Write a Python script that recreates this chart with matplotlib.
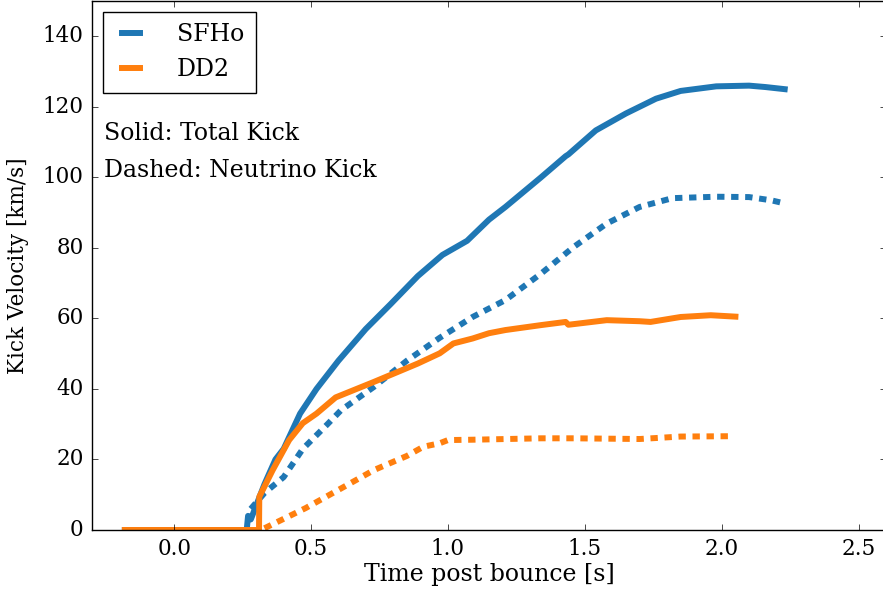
import matplotlib
matplotlib.use("Agg")
import matplotlib.pyplot as plt

plt.style.use('classic')
plt.rcParams['font.family'] = ['DejaVu Serif']

# SFHo total kick
sfho_tot_t = [-0.18, 0.265, 0.27, 0.28, 0.30, 0.33, 0.37, 0.40, 0.46, 0.52, 0.60, 0.70, 0.79, 0.89,
              0.98, 1.07, 1.15, 1.21, 1.34, 1.43, 1.44, 1.54, 1.65, 1.76, 1.85, 1.98, 2.10, 2.16, 2.23]
sfho_tot_v = [0, 0, 4, 3, 7, 13, 20, 23, 33, 40, 48, 57, 64, 72,
              78, 82, 88, 91.6, 100, 106, 106.5, 113.3, 118.1, 122.3, 124.5, 125.8, 126, 125.6, 125]
# SFHo neutrino kick
sfho_nu_t = [0.28, 0.33, 0.40, 0.47, 0.56, 0.61, 0.73, 0.85, 0.97, 1.09, 1.21, 1.34, 1.46, 1.58,
             1.70, 1.82, 1.90, 1.98, 2.10, 2.18, 2.23]
sfho_nu_v = [6, 10.5, 15, 23, 30, 34, 40.6, 48, 54.5, 60.4, 65.2, 72.7, 80.3, 86.9,
             91.6, 94.1, 94.3, 94.5, 94.4, 93.5, 92.6]
# DD2 total kick
dd2_tot_t = [-0.18, 0.31, 0.311, 0.36, 0.42, 0.47, 0.52, 0.59, 0.73, 0.89, 0.97, 1.02, 1.09, 1.15,
             1.21, 1.34, 1.43, 1.44, 1.58, 1.70, 1.74, 1.85, 1.96, 2.05]
dd2_tot_v = [0, 0, 9.4, 17, 25.5, 30.3, 33, 37.6, 42, 47.2, 50.1, 52.9, 54.3, 55.8,
             56.7, 58.1, 59, 58.2, 59.5, 59.2, 59.0, 60.4, 60.9, 60.5]
# DD2 neutrino kick
dd2_nu_t = [0.33, 0.48, 0.61, 0.73, 0.85, 0.91, 0.97, 1.0, 1.09, 1.34, 1.46, 1.70, 1.85, 2.04]
dd2_nu_v = [0.5, 6.2, 11.8, 17, 21, 23.6, 24.6, 25.5, 25.6, 26, 26, 25.8, 26.5, 26.6]

blue = '#1f77b4'
orange = '#ff7f0e'
lw = 4.3
dot = (0, (5.3, 4.8))

fig = plt.figure(figsize=(8.83, 5.94), dpi=100, facecolor='white')
ax = fig.add_axes([92/883, 64/594, 794/883, 529/594])

ax.plot(sfho_tot_t, sfho_tot_v, color=blue, lw=lw, label='SFHo')
ax.plot(sfho_nu_t, sfho_nu_v, color=blue, lw=lw, ls=dot)
ax.plot(dd2_tot_t, dd2_tot_v, color=orange, lw=lw, label='DD2')
ax.plot(dd2_nu_t, dd2_nu_v, color=orange, lw=lw, ls=dot)

ax.set_xlim(-0.3, 2.6)
ax.set_ylim(0, 150)
ax.set_xticks([0.0, 0.5, 1.0, 1.5, 2.0, 2.5])
ax.set_yticks([0, 20, 40, 60, 80, 100, 120, 140])
ax.tick_params(labelsize=15.5, pad=6)
ax.set_xlabel('Time post bounce [s]', fontsize=17, labelpad=2)
ax.set_ylabel('Kick Velocity [km/s]', fontsize=15.5, labelpad=10)

ax.text(-0.255, 112.5, 'Solid: Total Kick', fontsize=17, va='center', ha='left')
ax.text(-0.255, 102, 'Dashed: Neutrino Kick', fontsize=17, va='center', ha='left')

leg = ax.legend(loc='upper left', fontsize=17, numpoints=2, handlelength=1.4,
                handletextpad=1.25, borderaxespad=0.45, borderpad=0.5)
leg.get_frame().set_linewidth(1.0)

fig.savefig('out.png', dpi=100, facecolor='white')
